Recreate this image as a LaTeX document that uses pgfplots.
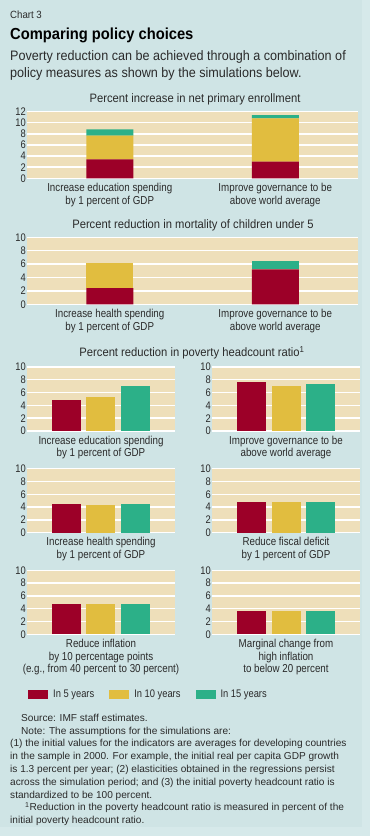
\documentclass[border=0pt]{standalone}
\usepackage{pgfplots}
\pgfplotsset{compat=1.18}
\usepackage{fontspec}
\setmainfont{Liberation Sans}[FakeStretch=0.85]
\newfontfamily\wfont{Liberation Sans}[FakeStretch=0.92]
\newfontfamily\notefont{Liberation Sans}
\definecolor{bgout}{HTML}{D6E9EA}
\definecolor{bgin}{HTML}{CFE4E5}
\definecolor{beige}{HTML}{EEDFBA}
\definecolor{cred}{HTML}{9C0028}
\definecolor{cyel}{HTML}{E1BD3F}
\definecolor{cgrn}{HTML}{2CB088}
\definecolor{txt}{HTML}{2A2A2A}
\pgfplotsset{
  panel/.style={
    scale only axis, anchor=south west,
    axis background/.style={fill=beige},
    axis line style={draw=none},
    major tick length=0pt,
    ymajorgrids, grid style={white, line width=1.4pt},
    ymin=0,
    /pgf/number format/assume math mode=true,
    tick label style={font=\fontsize{11}{12.7}\selectfont, text=txt},
    yticklabel style={inner sep=1pt},
    xticklabel style={align=center, inner sep=4.5pt, font=\fontsize{11.5}{12.7}\selectfont},
    enlargelimits=false,
  },
  stk/.style={panel, ybar stacked, bar width=47pt, xmin=-0.5, xmax=1.5, xtick={0,1}, width=331pt, height=67pt},
  grp/.style={panel, ybar=5.5pt, bar width=29pt, xmin=-1, xmax=1, xtick={0}, width=148pt, height=64pt, ymax=10, ytick={0,2,...,10}},
}
\begin{document}
\begin{tikzpicture}[x=1pt,y=1pt]
\useasboundingbox (0,0) rectangle (370,836);
\fill[bgout] (0,0) rectangle (370,836);
\fill[bgin] (0,9) rectangle (362,836);
% header
\node[anchor=base west, inner sep=0, text=txt, font=\wfont\fontsize{10.5}{12}\selectfont] at (10,817.7) {Chart 3};
\node[anchor=base west, inner sep=0, text=black, font=\wfont\fontsize{16}{18}\selectfont\bfseries] at (10,796) {Comparing policy choices};
\node[anchor=base west, inner sep=0, text=txt, font=\wfont\fontsize{13.7}{17}\selectfont] at (10,775.5) {Poverty reduction can be achieved through a combination of};
\node[anchor=base west, inner sep=0, text=txt, font=\wfont\fontsize{13.7}{17}\selectfont] at (10,758) {policy measures as shown by the simulations below.};
% panel titles
\node[anchor=base, inner sep=0, text=txt, font=\wfont\fontsize{12.2}{14}\selectfont] at (195,733.7) {Percent increase in net primary enrollment};
\node[anchor=base, inner sep=0, text=txt, font=\wfont\fontsize{12.2}{14}\selectfont] at (193,607.7) {Percent reduction in mortality of children under 5};
\node[anchor=base, inner sep=0, text=txt, font=\wfont\fontsize{12.2}{14}\selectfont] at (192,479.3) {Percent reduction in poverty headcount ratio\textsuperscript{1}};

% Panel 1
\begin{axis}[stk, at={(27pt,657.7pt)}, height=66.6pt, ymax=12, ytick={0,2,...,12},
  xticklabels={{Increase education spending\\by 1 percent of GDP},{Improve governance to be\\above world average}}]
\addplot[fill=cred, draw=none] coordinates {(0,3.4) (1,3.0)};
\addplot[fill=cyel, draw=none] coordinates {(0,4.3) (1,7.8)};
\addplot[fill=cgrn, draw=none] coordinates {(0,1.1) (1,0.6)};
\end{axis}

% Panel 2
\begin{axis}[stk, at={(27pt,531.7pt)}, ymax=10, ytick={0,2,...,10},
  xticklabels={{Increase health spending\\by 1 percent of GDP},{Improve governance to be\\above world average}}]
\addplot[fill=cred, draw=none] coordinates {(0,2.4) (1,5.2)};
\addplot[fill=cyel, draw=none] coordinates {(0,3.7) (1,0)};
\addplot[fill=cgrn, draw=none] coordinates {(0,0) (1,1.25)};
\end{axis}

% Panel 3
\begin{axis}[grp, at={(27pt,405pt)}, xticklabels={{Increase education spending\\by 1 percent of GDP}}]
\addplot[fill=cred, draw=none] coordinates {(0,4.85)};
\addplot[fill=cyel, draw=none] coordinates {(0,5.35)};
\addplot[fill=cgrn, draw=none] coordinates {(0,7.05)};
\end{axis}
\begin{axis}[grp, at={(212pt,405pt)}, xticklabels={{Improve governance to be\\above world average}}]
\addplot[fill=cred, draw=none] coordinates {(0,7.6)};
\addplot[fill=cyel, draw=none] coordinates {(0,7.05)};
\addplot[fill=cgrn, draw=none] coordinates {(0,7.35)};
\end{axis}

% Panel 4
\begin{axis}[grp, at={(27pt,303.3pt)}, xticklabels={{Increase health spending\\by 1 percent of GDP}}]
\addplot[fill=cred, draw=none] coordinates {(0,4.45)};
\addplot[fill=cyel, draw=none] coordinates {(0,4.35)};
\addplot[fill=cgrn, draw=none] coordinates {(0,4.5)};
\end{axis}
\begin{axis}[grp, at={(212pt,303.3pt)}, xticklabels={{Reduce fiscal deficit\\by 1 percent of GDP}}]
\addplot[fill=cred, draw=none] coordinates {(0,4.75)};
\addplot[fill=cyel, draw=none] coordinates {(0,4.75)};
\addplot[fill=cgrn, draw=none] coordinates {(0,4.75)};
\end{axis}

% Panel 5
\begin{axis}[grp, at={(27pt,201.7pt)}, xticklabels={{Reduce inflation\\by 10 percentage points\\(e.g.{,} from 40 percent to 30 percent)}},
  legend style={draw=none, fill=none, at={(0.0068,-0.933)}, anchor=west, inner sep=0pt,
    legend columns=3, font=\fontsize{11}{12.7}\selectfont, text=txt,
    /tikz/every odd column/.append style={column sep=3pt},
    /tikz/every even column/.append style={column sep=13pt}},
  legend cell align=left]
\addplot[fill=cred, draw=none, legend image code/.code={\fill[cred] (0pt,-4.5pt) rectangle (20pt,4.5pt);}] coordinates {(0,4.8)};
\addplot[fill=cyel, draw=none, legend image code/.code={\fill[cyel] (0pt,-4.5pt) rectangle (20pt,4.5pt);}] coordinates {(0,4.8)};
\addplot[fill=cgrn, draw=none, legend image code/.code={\fill[cgrn] (0pt,-4.5pt) rectangle (20pt,4.5pt);}] coordinates {(0,4.8)};
\legend{In 5 years, In 10 years, In 15 years}
\end{axis}
\begin{axis}[grp, at={(212pt,201.7pt)}, xticklabels={{Marginal change from\\high inflation\\to below 20 percent}}]
\addplot[fill=cred, draw=none] coordinates {(0,3.65)};
\addplot[fill=cyel, draw=none] coordinates {(0,3.65)};
\addplot[fill=cgrn, draw=none] coordinates {(0,3.65)};
\end{axis}

% notes
\begin{scope}[every node/.style={anchor=base west, inner sep=0, text=txt, font=\notefont\fontsize{10.1}{12}\selectfont}]
\node at (21,114.3) {Source: IMF staff estimates.};
\node at (21,101.7) {Note: The assumptions for the simulations are:};
\node at (10,89) {(1) the initial values for the indicators are averages for developing countries};
\node at (10,76.2) {in the sample in 2000. For example, the initial real per capita GDP growth};
\node at (10,63.4) {is 1.3 percent per year; (2) elasticities obtained in the regressions persist};
\node at (10,50.6) {across the simulation period; and (3) the initial poverty headcount ratio is};
\node at (10,37.8) {standardized to be 100 percent.};
\node at (25,25) {\textsuperscript{1}Reduction in the poverty headcount ratio is measured in percent of the};
\node at (10,12.2) {initial poverty headcount ratio.};
\end{scope}
\end{tikzpicture}
\end{document}
